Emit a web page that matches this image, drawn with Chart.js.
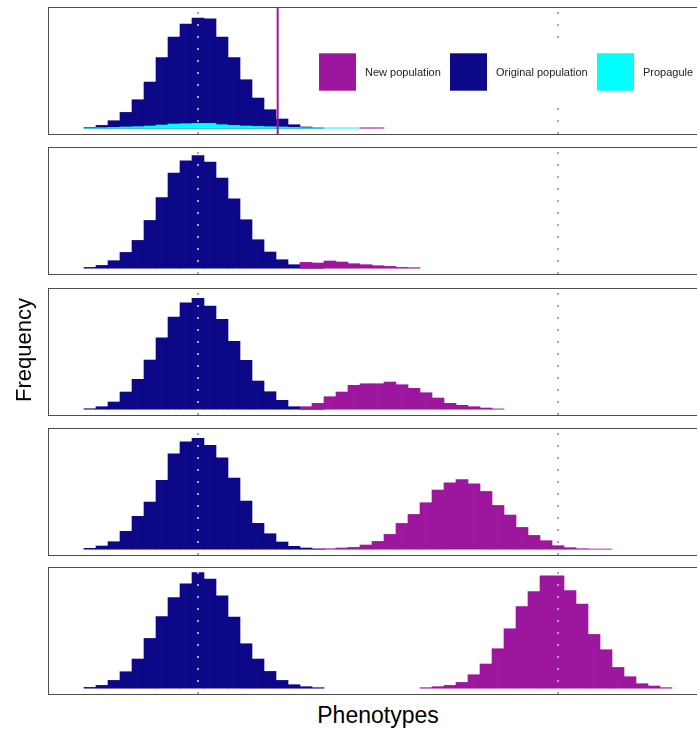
<!DOCTYPE html>
<html>
<head>
<meta charset="utf-8">
<script src="https://cdn.jsdelivr.net/npm/chart.js@4.4.1/dist/chart.umd.min.js"></script>
<style>
  html, body { margin: 0; padding: 0; background: #fff; }
  #figura { position: relative; width: 697px; height: 730px; overflow: hidden; font-family: "Liberation Sans", Arial, sans-serif; }
  .panel { position: absolute; left: 0; }
  #tituloX { position: absolute; left: 0; width: 756px; top: 704px; text-align: center; font-size: 23px; line-height: 23px; color: #000; }
  #tituloY { position: absolute; left: -176px; width: 400px; top: 339px; text-align: center; font-size: 22px; line-height: 22px; color: #000; transform: rotate(-90deg); }
</style>
</head>
<body>
<div id="figura">
  <canvas id="panel0" class="panel" width="710" height="131"></canvas>
  <canvas id="panel1" class="panel" width="710" height="131"></canvas>
  <canvas id="panel2" class="panel" width="710" height="131"></canvas>
  <canvas id="panel3" class="panel" width="710" height="131"></canvas>
  <canvas id="panel4" class="panel" width="710" height="131"></canvas>
  <div id="tituloX">Phenotypes</div>
  <div id="tituloY">Frequency</div>
</div>
<script>
// histogramas: una barra por unidad de fenotipo, valores leidos a ojo
const originalStart = -9;
const original = [
  [0.8, 2.8, 7.5, 15.8, 28.5, 46.2, 70.8, 91.2, 104.2, 110.2, 109.5, 91.2, 70.8, 48.5, 30.2, 18.5, 9.2, 3.5, 1.2, 0.3],
  [0.8, 2.8, 7.5, 15.8, 27.8, 47.8, 70.8, 95.2, 107.5, 112.8, 106.2, 90.2, 69.5, 48.5, 28.5, 16.2, 8.5, 3.5, 1.5, 0.5],
  [0.5, 2.5, 7.2, 17.2, 29.9, 49.2, 71.5, 92.2, 106.5, 110.9, 103.2, 89.9, 67.9, 48.9, 28.2, 17.5, 8.9, 2.5, 1.5, 0.3],
  [0.9, 3.2, 7.5, 17.9, 32.9, 47.2, 68.9, 95.5, 107.5, 110.9, 103.9, 91.5, 71.2, 48.2, 25.9, 15.5, 7.2, 2.9, 1.2, 0.2],
  [0.8, 2.8, 7.8, 16.5, 29.2, 49.8, 71.8, 90.8, 104.5, 115.8, 109.2, 92.5, 71.2, 44.5, 29.2, 16.8, 7.8, 3.5, 1.5, 0.5]
];
const nuevaStart = [14, 9, 9, 10, 19];
const nueva = [
  [0.4, 0.4],
  [5.8, 5.2, 7.2, 6.2, 4.5, 3.5, 2.5, 1.8, 0.8, 0.5],
  [2.5, 5.9, 12.5, 17.2, 23.9, 25.5, 25.5, 27.2, 24.5, 20.9, 16.5, 11.2, 5.9, 3.9, 2.5, 1.2, 0.3],
  [0.2, 0.5, 1.2, 1.8, 4.2, 7.8, 14.8, 25.8, 34.8, 46.5, 59.2, 66.5, 69.8, 65.5, 57.8, 43.8, 34.2, 21.8, 13.8, 8.5, 3.5, 1.5, 0.5, 0.2, 0.2],
  [0.5, 1.5, 2.8, 5.8, 13.5, 24.2, 39.5, 59.5, 81.8, 96.8, 112.5, 112.5, 97.8, 84.2, 53.8, 38.5, 20.8, 11.5, 4.5, 2.2, 0.5]
];
const propaguloStart = -9;
const propagulo = [0.3, 0.5, 0.8, 1.2, 1.5, 2.2, 3.2, 4.2, 4.5, 4.8, 4.8, 3.5, 2.8, 2.2, 1.8, 1.5, 1.2, 0.8, 0.5, 0.3, 0.3, 0.3, 0.3];
const optimos = [0, 30];
const umbral = 6.64;
const etiquetas = ['New population', 'Original population', 'Propagule'];

const colores = ['#9C179E', '#0D0887', '#00FFFF'];
const panelTops = [7, 147, 288, 428, 567];

function puntos(inicio, valores) {
  return valores.map((y, i) => ({ x: inicio + i, y: y }));
}

function serie(valores, color, orden) {
  return {
    data: valores,
    backgroundColor: color,
    borderWidth: 0,
    barPercentage: 1,
    categoryPercentage: 1,
    grouped: false,
    order: orden
  };
}

const adornos = {
  id: 'adornos',
  afterDatasetsDraw(chart, args, opts) {
    const ctx = chart.ctx;
    const { left, right, top, bottom } = chart.chartArea;
    const x = chart.scales.x;
    ctx.save();
    // lineas de los optimos
    ctx.strokeStyle = '#A8A8A8';
    ctx.lineWidth = 2;
    ctx.setLineDash([2, 10]);
    optimos.forEach(v => {
      const px = x.getPixelForValue(v);
      ctx.beginPath();
      ctx.moveTo(px, bottom);
      ctx.lineTo(px, top);
      ctx.stroke();
    });
    ctx.setLineDash([]);

    if (opts.primero) {
      // umbral del propagulo
      const px = x.getPixelForValue(umbral);
      ctx.strokeStyle = colores[0];
      ctx.lineWidth = 2;
      ctx.beginPath();
      ctx.moveTo(px, top);
      ctx.lineTo(px, bottom);
      ctx.stroke();

      // leyenda
      ctx.fillStyle = '#fff';
      ctx.fillRect(310, top + 35, right - 310, 58);
      const cajas = [319, 450, 597];
      ctx.font = '11px "Liberation Sans", Arial, sans-serif';
      ctx.textBaseline = 'middle';
      etiquetas.forEach((t, i) => {
        ctx.fillStyle = colores[i];
        ctx.fillRect(cajas[i], top + 46.3, 37, 37.4);
        ctx.fillStyle = '#222';
        ctx.fillText(t, cajas[i] + 46, top + 66);
      });
    }

    ctx.strokeStyle = '#4D4D4D';
    ctx.lineWidth = 1;
    ctx.strokeRect(left + 0.5, top + 0.5, right - left, bottom - top - 0.0);
    ctx.restore();
  }
};

for (let p = 0; p < 5; p++) {
  const canvas = document.getElementById('panel' + p);
  canvas.style.top = (panelTops[p] - 2) + 'px';

  const datasets = [
    serie(puntos(nuevaStart[p], nueva[p]), colores[0], 1),
    serie(puntos(originalStart, original[p]), colores[1], 3)
  ];
  if (p === 0) {
    datasets.push(serie(puntos(propaguloStart, propagulo), colores[2], 2));
  }

  new Chart(canvas.getContext('2d'), {
    type: 'bar',
    data: { datasets: datasets },
    plugins: [adornos],
    options: {
      responsive: false,
      animation: false,
      layout: { padding: { left: 48, right: 2, top: 2, bottom: 2 } },
      plugins: {
        legend: { display: false },
        tooltip: { enabled: false },
        adornos: { primero: p === 0 }
      },
      scales: {
        x: { type: 'linear', min: -12.5, max: 42.5, offset: false, display: false, ticks: { stepSize: 10 } },
        y: { min: -5.8, max: 121.3, display: false }
      }
    }
  });
}
</script>
</body>
</html>
